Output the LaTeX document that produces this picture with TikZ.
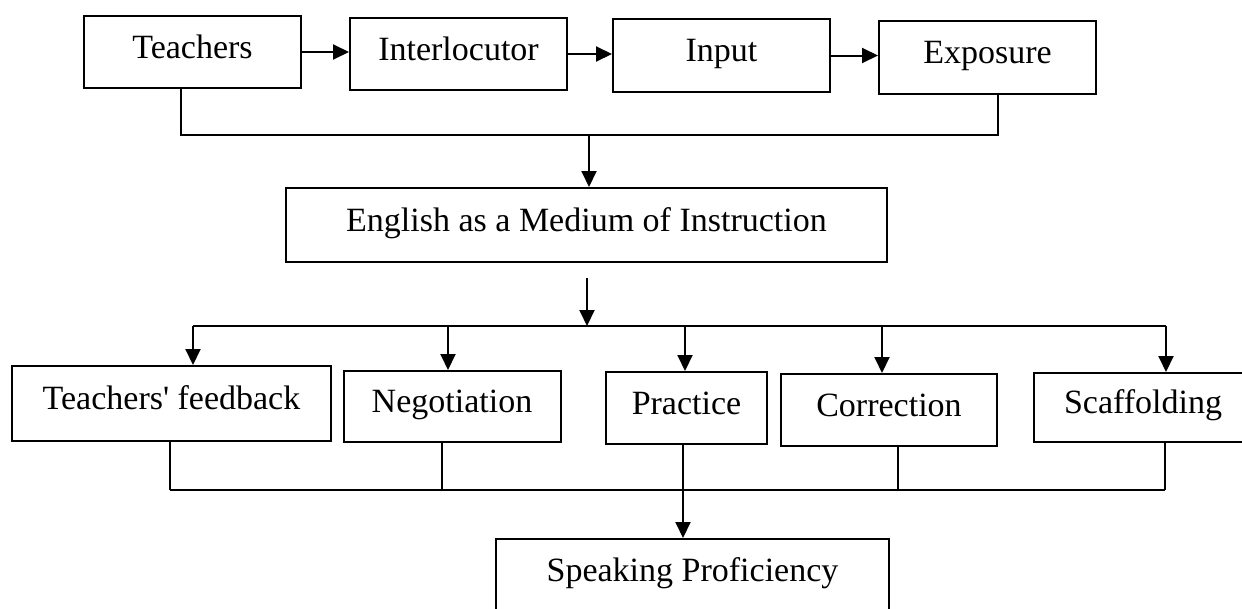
\documentclass[tikz,border=0pt]{standalone}
\usepackage{fontspec}
\setmainfont{Liberation Serif}
\usetikzlibrary{arrows.meta,positioning}

\begin{document}
\begin{tikzpicture}[x=1pt,y=-1pt,line width=2pt,
        box/.style={draw,rectangle,inner sep=0pt,minimum width=217pt,minimum height=72pt,
            text height=22pt,text depth=10pt,font=\fontsize{34}{40}\selectfont},
        arr/.style={-{Triangle[length=16pt,width=15pt]}}]
        \useasboundingbox (0,0) rectangle (1242,608);

        \node[box] at (192.5,52)(teachers){Teachers};
        \node[box] at (458.5,54)(interloc){Interlocutor};
        \node[box, minimum height=73pt] at (721.5,55.5)(input){Input};
        \node[box, minimum height=73pt] at (987.5,57.5)(exposure){Exposure};
        \node[box, minimum width=601pt, minimum height=74pt] at (586.5,225)(emi){English as a Medium of Instruction};
        \node[box, minimum width=319pt, minimum height=75pt] at (171.5,403.5)(feedback){Teachers\textquotesingle{} feedback};
        \node[box, minimum height=71pt] at (452,406.5)(negotiation){Negotiation};
        \node[box, minimum width=161pt] at (686.5,408)(practice){Practice};
        \node[box, minimum width=216pt] at (889,410)(correction){Correction};
        \node[box, minimum width=218pt, minimum height=69pt] at (1143,407.5)(scaffolding){Scaffolding};
        \node[box, minimum width=393pt] at (692.5,575)(speaking){Speaking Proficiency};

        \path[arr]
        (teachers.east) edge (teachers.east -| interloc.west)
        (interloc.east) edge (interloc.east -| input.west)
        (input.east) edge (input.east -| exposure.west)
        ;

        % top bracket
        \coordinate (t1) at (181,135);
        \coordinate (t2) at (998,135);
        \coordinate (t3) at (589,135);
        \draw (t1 |- teachers.south) -- (t1) -- (t2) -- (t2 |- exposure.south);
        \draw[arr] (t3) -- (t3 |- emi.north);

        % middle bracket
        \coordinate (m0) at (587,278);
        \coordinate (m1) at (193,326);
        \coordinate (m2) at (448,326);
        \coordinate (m3) at (685,326);
        \coordinate (m4) at (882,326);
        \coordinate (m5) at (1166,326);
        \draw (m1) -- (m5);
        \path[arr]
        (m0) edge (m0 |- m1)
        (m1) edge (m1 |- feedback.north)
        (m2) edge (m2 |- negotiation.north)
        (m3) edge (m3 |- practice.north)
        (m4) edge (m4 |- correction.north)
        (m5) edge (m5 |- scaffolding.north)
        ;

        % bottom bracket
        \coordinate (b1) at (170,490);
        \coordinate (b2) at (442,490);
        \coordinate (b3) at (683,490);
        \coordinate (b4) at (898,490);
        \coordinate (b5) at (1165,490);
        \draw (b1) -- (b5);
        \path
        (b1 |- feedback.south) edge (b1)
        (b2 |- negotiation.south) edge (b2)
        (b3 |- practice.south) edge (b3)
        (b4 |- correction.south) edge (b4)
        (b5 |- scaffolding.south) edge (b5)
        ;
        \draw[arr] (b3) -- (b3 |- speaking.north);
    \end{tikzpicture}
\end{document}
